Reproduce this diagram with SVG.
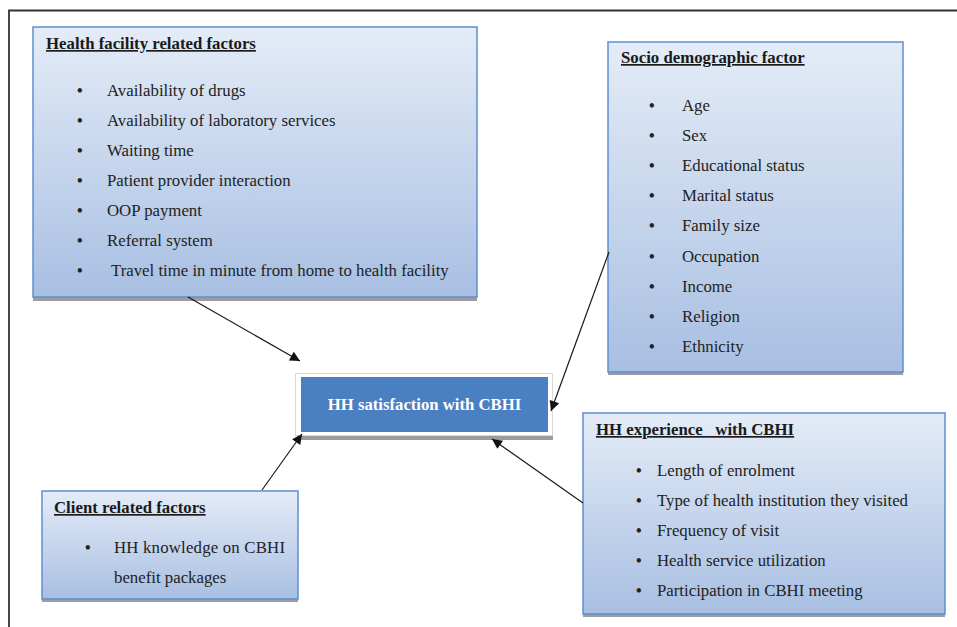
<svg xmlns="http://www.w3.org/2000/svg" width="957" height="627" viewBox="0 0 957 627">
<defs>
<linearGradient id="g" x1="0" y1="0" x2="0" y2="1">
<stop offset="0" stop-color="#e4ecf7"/>
<stop offset="1" stop-color="#a8bfe2"/>
</linearGradient>
<marker id="ah" viewBox="0 0 10 10" refX="10" refY="5" markerWidth="12" markerHeight="10" markerUnits="userSpaceOnUse" orient="auto">
<path d="M0,0 L10,5 L0,10 z" fill="#111"/>
</marker>
</defs>
<style>
.box{fill:url(#g);stroke:#5d8ed2;stroke-width:1.5}
.sh{fill:#9c9c9c}
.t{font-family:"Liberation Serif","Times New Roman",serif;font-size:16.8px;fill:#222}
.h{font-family:"Liberation Serif","Times New Roman",serif;font-size:16.8px;font-weight:bold;fill:#1a1a1a;text-decoration:underline}
.b{font-family:"Liberation Serif","Times New Roman",serif;font-size:16px;font-weight:bold;fill:#222}
.c{stroke:#1a1a1a;stroke-width:1.2;fill:none;marker-end:url(#ah)}
</style>
<rect width="957" height="627" fill="#fff"/>
<g id="frame"><path d="M9,627 V10.5 H957" fill="none" stroke="#333" stroke-width="1.8"/></g>

<g id="health-facility">
<rect class="sh" x="33" y="296" width="444" height="5"/>
<rect class="box" x="33" y="27" width="444" height="270"/>
<text class="h" x="46" y="49">Health facility related factors</text>
<g class="b"><text x="77" y="96">•</text><text x="77" y="126">•</text><text x="77" y="156">•</text><text x="77" y="186">•</text><text x="77" y="216">•</text><text x="77" y="246">•</text><text x="77" y="276">•</text></g>
<text class="t" x="107" y="96">Availability of drugs</text>
<text class="t" x="107" y="126">Availability of laboratory services</text>
<text class="t" x="107" y="156">Waiting time</text>
<text class="t" x="107" y="186">Patient provider interaction</text>
<text class="t" x="107" y="216">OOP payment</text>
<text class="t" x="107" y="246">Referral system</text>
<text class="t" x="111" y="276">Travel time in minute from home to health facility</text>
</g>

<g id="socio-demographic">
<rect class="sh" x="608" y="371" width="295" height="4"/>
<rect class="box" x="608" y="42" width="295" height="330"/>
<text class="h" x="621" y="63">Socio demographic factor</text>
<g class="b"><text x="649" y="111">•</text><text x="649" y="141">•</text><text x="649" y="171">•</text><text x="649" y="201">•</text><text x="649" y="231">•</text><text x="649" y="262">•</text><text x="649" y="292">•</text><text x="649" y="322">•</text><text x="649" y="352">•</text></g>
<text class="t" x="682" y="111">Age</text>
<text class="t" x="682" y="141">Sex</text>
<text class="t" x="682" y="171">Educational status</text>
<text class="t" x="682" y="201">Marital status</text>
<text class="t" x="682" y="231">Family size</text>
<text class="t" x="682" y="262">Occupation</text>
<text class="t" x="682" y="292">Income</text>
<text class="t" x="682" y="322">Religion</text>
<text class="t" x="682" y="352">Ethnicity</text>
</g>

<g id="hh-satisfaction">
<rect class="sh" x="297" y="434" width="256" height="6"/>
<rect x="295.5" y="373.5" width="257" height="62" fill="#fff" stroke="#d8d8d8" stroke-width="1"/>
<rect x="301" y="377" width="247" height="55" fill="#4a80c2"/>
<text x="424.5" y="410" text-anchor="middle" font-family="'Liberation Serif','Times New Roman',serif" font-size="16.7" font-weight="bold" fill="#fff">HH satisfaction with CBHI</text>
</g>

<g id="client-related">
<rect class="sh" x="42" y="598" width="256" height="4"/>
<rect class="box" x="42" y="491" width="256" height="108"/>
<text class="h" x="54" y="513">Client related factors</text>
<text class="b" x="85" y="553">•</text>
<text class="t" x="114" y="553" textLength="171" lengthAdjust="spacing">HH knowledge on CBHI</text>
<text class="t" x="114" y="583">benefit packages</text>
</g>

<g id="hh-experience">
<rect class="sh" x="583" y="613" width="362" height="4"/>
<rect class="box" x="583" y="413" width="362" height="201"/>
<text class="h" x="596" y="435" xml:space="preserve">HH experience   with CBHI</text>
<g class="b"><text x="636" y="476">•</text><text x="636" y="506">•</text><text x="636" y="536">•</text><text x="636" y="566">•</text><text x="636" y="596">•</text></g>
<text class="t" x="657" y="476">Length of enrolment</text>
<text class="t" x="657" y="506">Type of health institution they visited</text>
<text class="t" x="657" y="536">Frequency of visit</text>
<text class="t" x="657" y="566">Health service utilization</text>
<text class="t" x="657" y="596">Participation in CBHI meeting</text>
</g>

<g id="connectors">
<line class="c" x1="188" y1="297" x2="300" y2="361"/>
<line class="c" x1="609" y1="252" x2="551" y2="411"/>
<line class="c" x1="262" y1="490" x2="302" y2="434"/>
<line class="c" x1="583" y1="503" x2="492" y2="439"/>
</g>
</svg>
